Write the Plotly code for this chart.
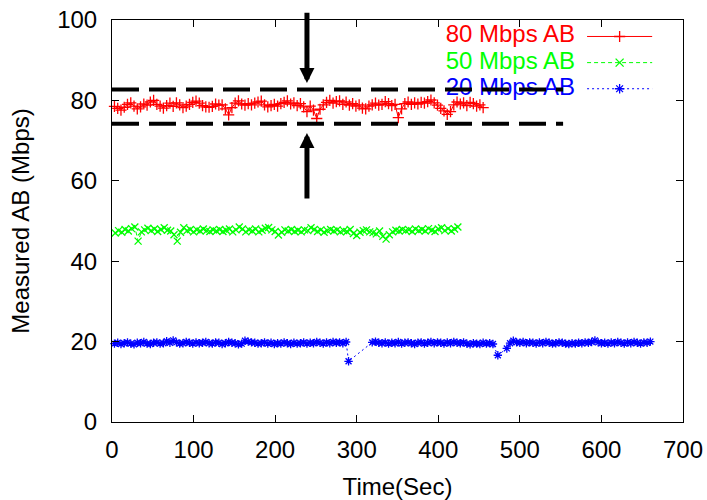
import plotly.graph_objects as go

# ---------------- data ----------------
red_label = "80 Mbps AB"
green_label = "50 Mbps AB"
blue_label = "20 Mbps AB"

red_start, red_step = 3, 4
red_values = [
    78.5, 78.0, 77.6, 78.3, 79.0, 79.4, 78.6, 77.9, 78.4, 79.1,
    78.8, 79.6, 80.0, 79.0, 78.6, 78.1, 78.7, 79.3, 78.5, 79.4,
    78.9, 78.2, 78.6, 79.0, 79.5, 79.8, 79.3, 78.7, 78.4, 78.3,
    78.5, 79.1, 78.8, 78.9, 77.9, 76.4, 78.2, 79.3, 79.9, 79.1,
    78.8, 79.2, 78.9, 79.3, 79.6, 79.8, 78.9, 78.4, 78.7, 79.0,
    78.6, 79.2, 79.5, 79.9, 79.1, 79.4, 78.7, 79.2, 78.4, 77.2,
    78.6, 77.6, 75.5, 77.8, 78.9, 79.5, 80.0, 79.3, 79.7, 79.9,
    79.0, 79.6, 78.8, 79.2, 78.6, 78.9, 78.1, 77.9, 78.6, 78.9,
    79.3, 78.8, 79.0, 79.7, 79.2, 78.7, 79.0, 75.7, 77.9, 79.2,
    79.6, 79.0, 79.4, 79.1, 79.5, 79.3, 79.7, 80.1, 79.4, 78.8,
    78.0, 77.4, 76.5, 77.2, 78.9, 79.6, 79.1, 79.4, 78.7, 79.5,
    79.2, 78.6, 78.9, 78.2,
]

green_start, green_step = 4, 4
green_values = [
    47.0, 47.6, 47.2, 47.9, 47.5, 48.1, 48.5, 45.0, 47.3, 47.8,
    48.2, 47.6, 48.0, 47.4, 47.9, 48.3, 47.7, 47.5, 46.6, 45.0,
    47.2, 48.3, 47.6, 47.9, 47.3, 47.8, 47.5, 48.0, 47.6, 47.4,
    47.8, 47.5, 47.9, 47.4, 47.7, 48.0, 47.3, 47.8, 48.5, 48.0,
    47.3, 47.8, 47.5, 48.0, 47.3, 47.7, 48.2, 48.4, 47.8, 47.4,
    46.5, 47.2, 47.8, 47.5, 47.9, 47.4, 47.7, 47.3, 47.8, 47.6,
    48.3, 47.9, 47.4, 47.8, 47.2, 47.6, 47.9, 47.5, 47.8, 47.3,
    47.6, 47.4, 47.9, 46.9, 46.4, 47.2, 47.6, 47.8, 47.3, 47.1,
    46.8, 47.5, 46.2, 45.5, 46.6, 47.3, 47.7, 47.5, 47.9, 47.6,
    47.8, 47.4, 48.0, 47.6, 47.9, 47.5, 48.1, 47.7, 47.4, 48.0,
    48.3, 47.6, 48.1, 47.5, 48.0, 48.5,
]

blue_seg1_start, blue_seg1_step = 3, 4
blue_seg1_values = [
    19.5, 19.7, 19.4, 19.6, 19.8, 19.5, 19.3, 19.7, 19.6, 19.9,
    19.5, 19.4, 19.7, 19.8, 19.5, 19.6, 20.1, 19.7, 20.3, 19.8,
    19.5, 19.6, 19.9, 19.7, 19.5, 19.8, 19.6, 19.7, 19.9, 19.6,
    19.5, 19.8, 19.7, 19.4, 19.6, 19.9, 19.7, 19.6, 19.3, 19.5,
    20.2, 20.0, 19.8, 19.7, 19.5, 19.6, 19.8, 19.5, 19.7, 19.4,
    19.6, 19.5, 19.8, 19.6, 19.4, 19.7, 19.5, 19.6, 19.8, 19.5,
    19.7, 19.6, 19.9, 19.7, 19.5, 19.8, 19.6, 19.9, 19.7, 19.8,
    19.6, 19.9,
]
blue_seg2_start, blue_seg2_step = 319, 4
blue_seg2_values = [
    19.8, 20.0, 19.7, 19.6, 19.8, 19.5, 19.7, 19.6, 19.9, 19.5,
    19.7, 19.8, 19.6, 19.4, 19.7, 19.8, 19.5, 19.7, 19.9, 19.6,
    19.8, 19.7, 19.5, 19.8, 19.6, 19.9, 19.7, 19.6, 19.8, 19.5,
    19.3, 19.6, 19.5, 19.4, 19.7, 19.5, 19.6, 19.4,
]
blue_seg3_start, blue_seg3_step = 488, 4
blue_seg3_values = [
    19.6, 20.2, 19.8, 19.7, 19.9, 19.6, 19.8, 19.7, 19.5, 19.8,
    19.6, 19.9, 19.7, 19.5, 19.6, 19.8, 19.7, 19.5, 19.4, 19.6,
    19.5, 19.7, 19.6, 19.8, 19.7, 19.9, 20.3, 19.8, 19.6, 19.7,
    19.5, 19.8, 19.6, 19.9, 19.7, 19.5, 19.8, 19.6, 19.9, 19.7,
    19.5, 19.8, 19.7, 20.0,
]
blue_dip_times = [290, 473, 484]
blue_dip_values = [15.1, 16.6, 18.3]

bound_levels = [82.7, 74.2]
bound_x_extent = [0, 553]

arrow_time = 239
arrow_top = [102.2, 84.3]      # tail, tip
arrow_bottom = [55.2, 71.9]    # tail, tip

x_ticks = [0, 100, 200, 300, 400, 500, 600, 700]
y_ticks = [0, 20, 40, 60, 80, 100]


def times(start, step, vals):
    return [start + step * i for i in range(len(vals))]


red_x = times(red_start, red_step, red_values)
green_x = times(green_start, green_step, green_values)

blue_pts = list(zip(times(blue_seg1_start, blue_seg1_step, blue_seg1_values), blue_seg1_values))
blue_pts += list(zip(times(blue_seg2_start, blue_seg2_step, blue_seg2_values), blue_seg2_values))
blue_pts += list(zip(times(blue_seg3_start, blue_seg3_step, blue_seg3_values), blue_seg3_values))
blue_pts += list(zip(blue_dip_times, blue_dip_values))
blue_pts.sort()
blue_x = [p[0] for p in blue_pts]
blue_y = [p[1] for p in blue_pts]

RED, GREEN, BLUE = "#ff0000", "#00ff00", "#0000ff"
FONT = "Liberation Sans, Arial, sans-serif"

fig = go.Figure()

fig.add_trace(go.Scatter(
    x=red_x, y=red_values, mode="lines+markers",
    line=dict(color=RED, width=1),
    marker=dict(symbol="cross-thin-open", size=8, color=RED, line=dict(color=RED, width=1.3)),
    showlegend=False, cliponaxis=False))
fig.add_trace(go.Scatter(
    x=green_x, y=green_values, mode="lines+markers",
    line=dict(color=GREEN, width=1, dash="4px,3px"),
    marker=dict(symbol="x-thin-open", size=7, color=GREEN, line=dict(color=GREEN, width=1.3)),
    showlegend=False, cliponaxis=False))
fig.add_trace(go.Scatter(
    x=blue_x, y=blue_y, mode="lines+markers",
    line=dict(color=BLUE, width=1, dash="2px,3px"),
    marker=dict(symbol="asterisk-open", size=7, color=BLUE, line=dict(color=BLUE, width=1.3)),
    showlegend=False, cliponaxis=False))

# ---- key (legend), drawn on a hidden overlay axis in plot-area fractions ----
key_rows = [(red_label, RED, "cross-thin-open", None, 0.959),
            (green_label, GREEN, "x-thin-open", "4px,3px", 0.894),
            (blue_label, BLUE, "asterisk-open", "2px,3px", 0.829)]
for label, col, sym, dash, yy in key_rows:
    fig.add_trace(go.Scatter(
        x=[0.811], y=[yy], mode="text", text=[label], textposition="middle left",
        textfont=dict(color=col, size=24, family=FONT),
        xaxis="x2", yaxis="y2", showlegend=False, cliponaxis=False, hoverinfo="skip"))
    fig.add_trace(go.Scatter(
        x=[0.832, 0.946], y=[yy, yy], mode="lines",
        line=dict(color=col, width=1, dash=dash),
        xaxis="x2", yaxis="y2", showlegend=False, cliponaxis=False, hoverinfo="skip"))
    fig.add_trace(go.Scatter(
        x=[0.889], y=[yy], mode="markers",
        marker=dict(symbol=sym, size=8, color=col, line=dict(color=col, width=1.3)),
        xaxis="x2", yaxis="y2", showlegend=False, cliponaxis=False, hoverinfo="skip"))

# ---- bound lines drawn above the key text ----
for lvl in bound_levels:
    fig.add_trace(go.Scatter(
        x=bound_x_extent, y=[lvl, lvl], mode="lines",
        line=dict(color="black", width=4, dash="27px,10px"),
        xaxis="x3", yaxis="y3", showlegend=False, cliponaxis=False, hoverinfo="skip"))

for tail, tip in (arrow_top, arrow_bottom):
    fig.add_annotation(
        x=arrow_time, y=tip, ax=arrow_time, ay=tail, xref="x", yref="y",
        axref="x", ayref="y", text="", showarrow=True,
        arrowhead=2, arrowsize=0.6, arrowwidth=5, arrowcolor="black")

axis_common = dict(
    showgrid=False, zeroline=False, showline=True, linecolor="black", linewidth=1,
    mirror="ticks", ticks="inside", ticklen=7, tickwidth=1, tickcolor="black",
    tickfont=dict(size=24, color="black", family=FONT), automargin=False,
)

fig.update_layout(
    width=707, height=500,
    margin=dict(l=112, r=24, t=20, b=78),
    paper_bgcolor="white", plot_bgcolor="white",
    font=dict(family=FONT, size=24, color="black"),
    xaxis=dict(range=[0, 700], tickvals=x_ticks, ticktext=[str(v) for v in x_ticks],
               ticklabelstandoff=6,
               title=dict(text="Time(Sec)", font=dict(size=24), standoff=16),
               **axis_common),
    yaxis=dict(range=[0, 100], tickvals=y_ticks, ticktext=[str(v) for v in y_ticks],
               ticklabelstandoff=9,
               title=dict(text="Measured AB (Mbps)", font=dict(size=24), standoff=20),
               **axis_common),
    xaxis2=dict(overlaying="x", range=[0, 1], visible=False),
    yaxis2=dict(overlaying="y", range=[0, 1], visible=False),
    xaxis3=dict(overlaying="x", range=[0, 700], visible=False),
    yaxis3=dict(overlaying="y", range=[0, 100], visible=False),
    showlegend=False,
)

fig.write_html("out.html")
